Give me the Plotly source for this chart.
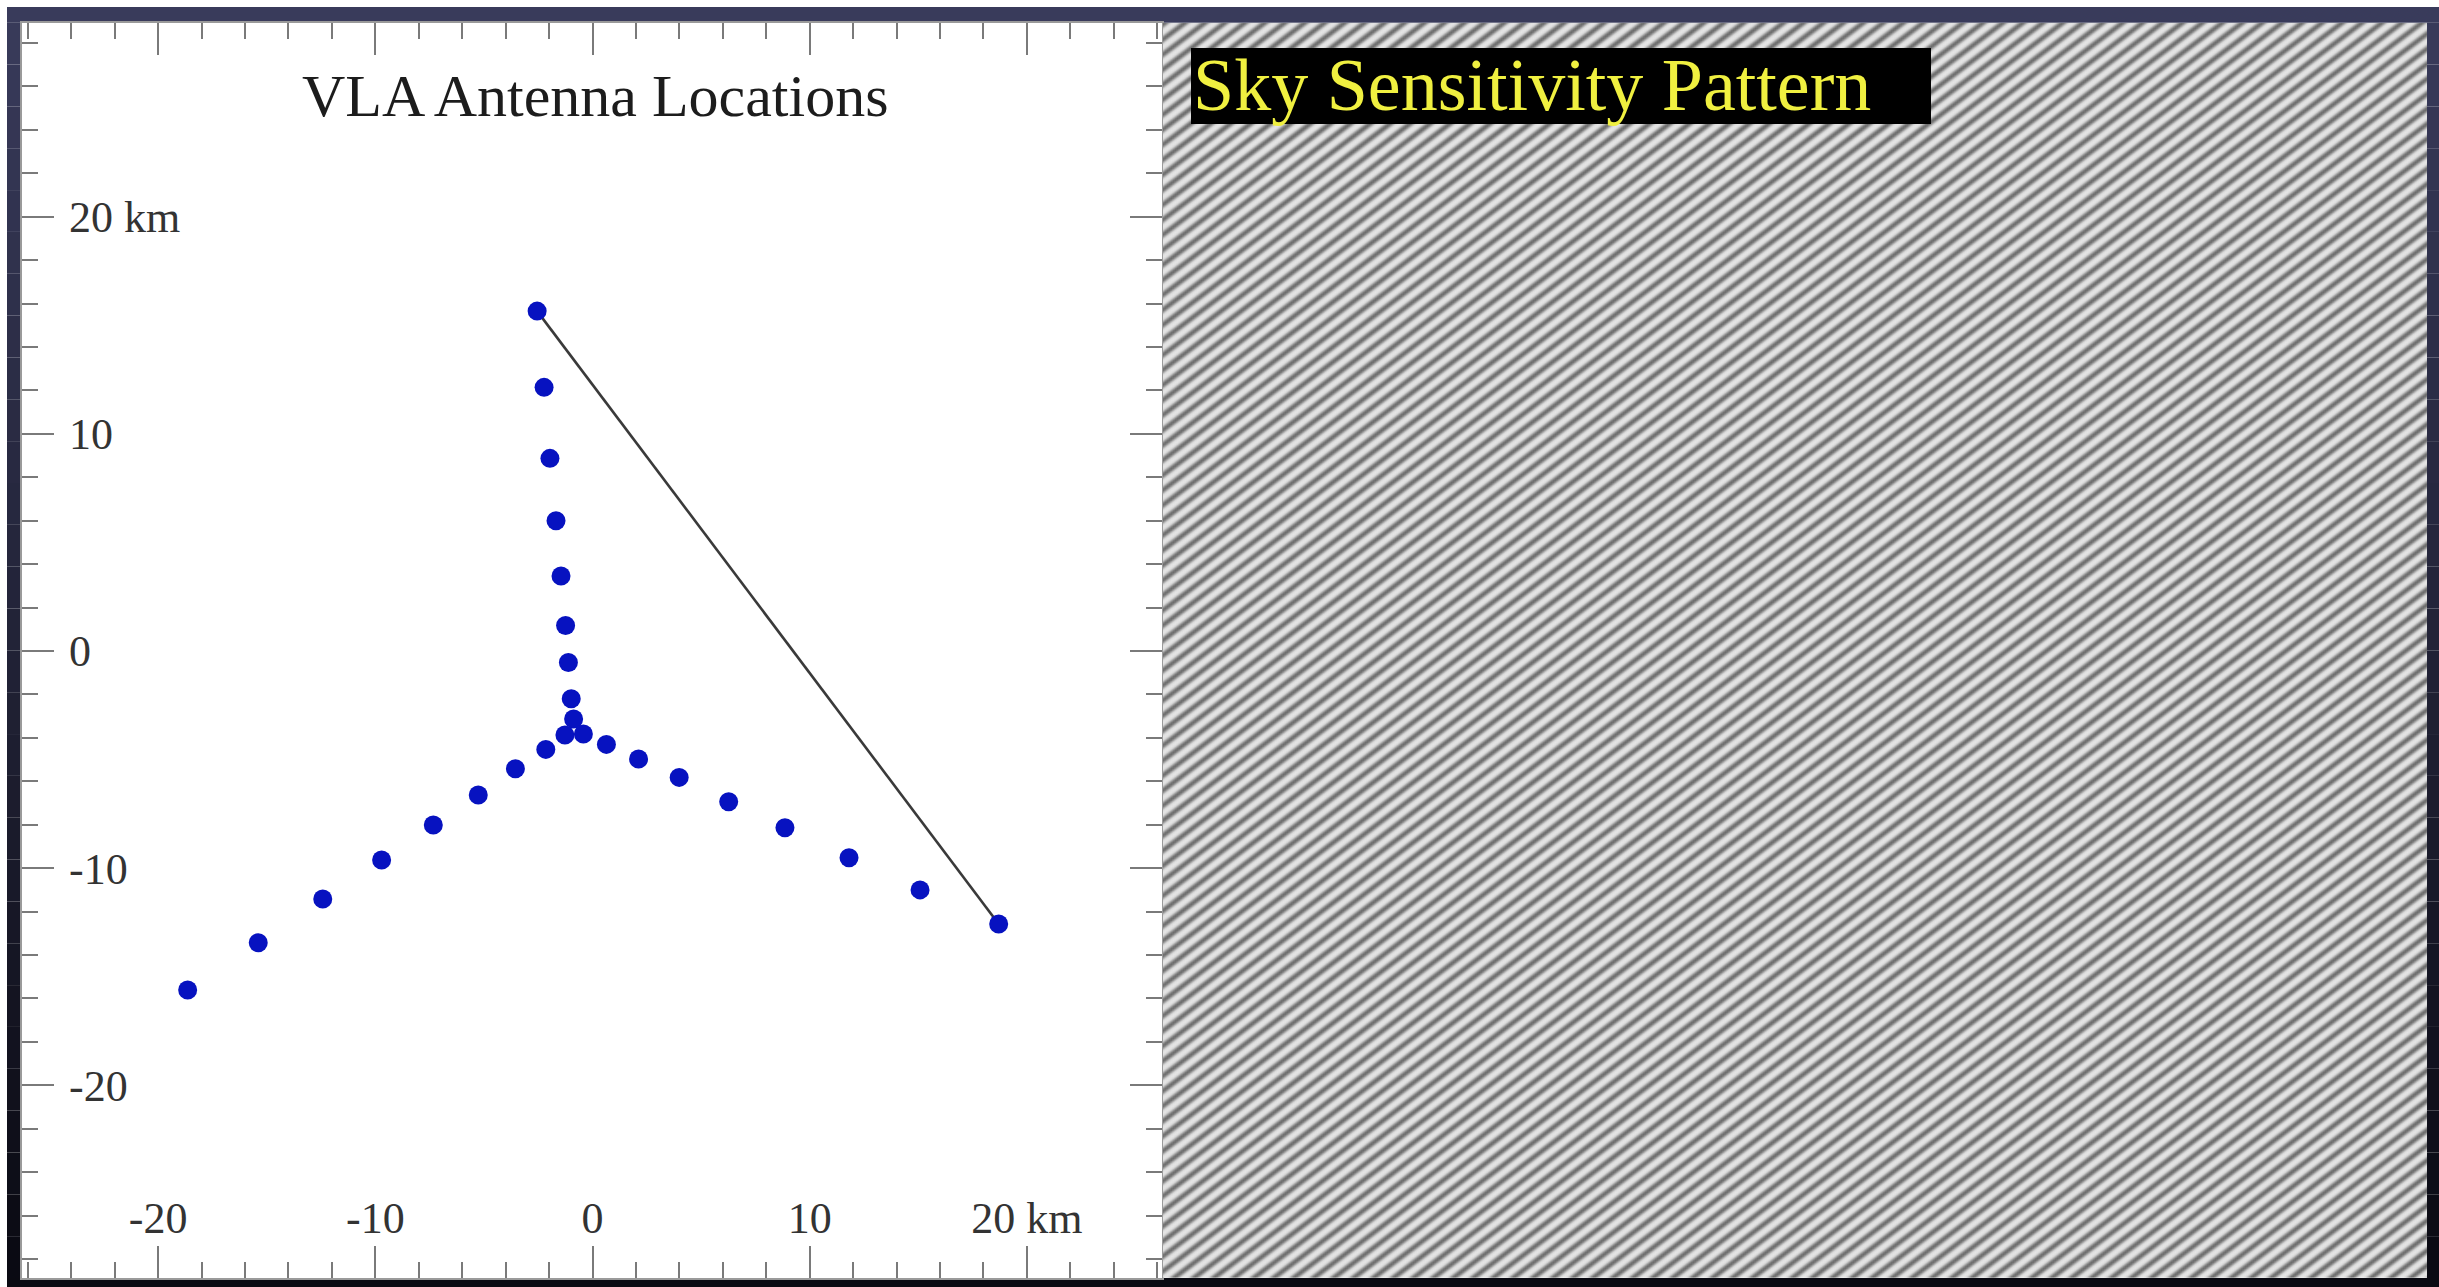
import numpy as np
import plotly.graph_objects as go

FIG_W, FIG_H = 2439, 1287

# ---------------- data: VLA antenna positions (km) ----------------
north_x = [-2.55, -2.23, -1.96, -1.68, -1.45, -1.24, -1.11, -0.98, -0.87]
north_y = [15.65, 12.14, 8.87, 6.00, 3.45, 1.17, -0.53, -2.20, -3.13]
west_x = [-1.27, -2.15, -3.55, -5.26, -7.33, -9.71, -12.42, -15.39, -18.64]
west_y = [-3.87, -4.53, -5.42, -6.63, -8.01, -9.62, -11.42, -13.43, -15.61]
east_x = [-0.42, 0.64, 2.12, 3.99, 6.27, 8.86, 11.81, 15.08, 18.70]
east_y = [-3.82, -4.30, -4.97, -5.82, -6.94, -8.14, -9.52, -11.00, -12.57]

# baseline drawn: first north antenna to last east antenna
baseline_x = [north_x[0], east_x[-1]]
baseline_y = [north_y[0], east_y[-1]]

tick_vals = [-20, -10, 0, 10, 20]
x_tick_text = ["-20", "-10", "0", "10", "20 km"]
y_tick_text = ["-20", "-10", "0", "10", "20 km"]

left_title = "VLA Antenna Locations"
right_title = "Sky Sensitivity Pattern"

FRINGE_SPACING_PX = 12.0  # on-screen spacing of fringes

X_RANGE = [-26.29, 26.22]
Y_RANGE = [-28.87, 28.93]


def px(x):
    return x / FIG_W


def py(y):
    return 1 - y / FIG_H


SERIF = "Liberation Serif, Times New Roman, serif"

# panel geometry (pixels)
L_X0, L_X1 = 21.5, 1162
R_X0, R_X1 = 1163, 2427
P_Y0, P_Y1 = 22.7, 1278

fig = go.Figure()

ant_x = north_x + west_x + east_x
ant_y = north_y + west_y + east_y

fig.add_trace(go.Scatter(
    x=baseline_x, y=baseline_y, mode="lines",
    line=dict(color="#3a3a3a", width=2.6),
    xaxis="x", yaxis="y", hoverinfo="skip", showlegend=False))
fig.add_trace(go.Scatter(
    x=ant_x, y=ant_y, mode="markers",
    marker=dict(color="#0712c0", size=19, line=dict(width=0)),
    xaxis="x", yaxis="y", showlegend=False))
# empty trace so the label-only axes are drawn
fig.add_trace(go.Scatter(x=[], y=[], xaxis="x3", yaxis="y3",
                         showlegend=False, hoverinfo="skip"))

# ---------------- fringe pattern for that baseline ----------------
bx = baseline_x[1] - baseline_x[0]
by = baseline_y[1] - baseline_y[0]
blen = np.hypot(bx, by)
ux, uy = bx / blen, by / blen
W = R_X1 - R_X0
H = P_Y1 - P_Y0
gx = np.arange(0, W + 2, 2.0)
gy = np.arange(0, H + 2, 2.0)
GX, GY = np.meshgrid(gx, gy)
phase = 2 * np.pi * (ux * GX + uy * GY) / FRINGE_SPACING_PX
zz = np.round((np.cos(phase) + 1) * 127.5).astype(np.uint8)

fig.add_trace(go.Heatmap(
    x=gx, y=gy, z=zz, zmin=0, zmax=255, zsmooth="best",
    colorscale=[[0, "#6a6a6a"], [0.35, "#a6a6a6"], [0.7, "#d6d6d6"],
                [1, "#e6e6e6"]],
    showscale=False, xaxis="x2", yaxis="y2", hoverinfo="skip"))

tick_col = "#7a7a7a"
tick_axis = dict(
    showgrid=False, zeroline=False, showline=True, linecolor="#9a9a9a",
    linewidth=2, mirror="allticks", ticks="inside", ticklen=32, tickwidth=2,
    tickcolor=tick_col, showticklabels=False,
    tickvals=tick_vals, fixedrange=True,
    minor=dict(dtick=2, tick0=0, ticks="inside", ticklen=16, tickwidth=2,
               tickcolor=tick_col, showgrid=False),
)
label_axis = dict(
    showgrid=False, zeroline=False, showline=False, ticks="",
    tickfont=dict(family=SERIF, size=44, color="#333333"),
    tickvals=tick_vals, fixedrange=True, anchor="free",
)

fig.update_layout(
    width=FIG_W, height=FIG_H,
    margin=dict(l=0, r=0, t=0, b=0),
    paper_bgcolor="white", plot_bgcolor="white",
    xaxis=dict(tick_axis, domain=[px(L_X0), px(L_X1)], anchor="y",
               range=X_RANGE),
    yaxis=dict(tick_axis, domain=[py(P_Y1), py(P_Y0)], anchor="x",
               range=Y_RANGE),
    xaxis3=dict(label_axis, overlaying="x", range=X_RANGE, side="bottom",
                position=py(1188), ticktext=x_tick_text),
    yaxis3=dict(label_axis, overlaying="y", range=Y_RANGE, side="right",
                position=px(68), ticktext=y_tick_text),
    xaxis2=dict(domain=[px(R_X0), px(R_X1)], anchor="y2", range=[0, W],
                visible=False, fixedrange=True),
    yaxis2=dict(domain=[py(P_Y1), py(P_Y0)], anchor="x2", range=[0, H],
                visible=False, fixedrange=True),
    showlegend=False,
)

# ---------------- frame ----------------
shapes = []
top_col = np.array([57, 59, 91])
bot_col = np.array([10, 10, 18])


def col_at(t):
    c = top_col + (bot_col - top_col) * t
    return "rgb(%d,%d,%d)" % tuple(c.astype(int))


shapes.append(dict(type="rect", xref="paper", yref="paper",
                   x0=px(7), x1=1, y0=py(P_Y0), y1=py(7),
                   fillcolor=col_at(0), line=dict(width=0), layer="below"))
shapes.append(dict(type="rect", xref="paper", yref="paper",
                   x0=px(7), x1=1, y0=0, y1=py(P_Y1),
                   fillcolor=col_at(1), line=dict(width=0), layer="below"))
N = 30
for i in range(N):
    ya = P_Y0 + (P_Y1 - P_Y0) * i / N
    yb = P_Y0 + (P_Y1 - P_Y0) * (i + 1) / N
    c = col_at((i + 0.5) / N)
    for xa, xb in [(7, L_X0), (R_X1, FIG_W)]:
        shapes.append(dict(type="rect", xref="paper", yref="paper",
                           x0=px(xa), x1=px(xb), y0=py(yb), y1=py(ya),
                           fillcolor=c, line=dict(width=0), layer="below"))

# black title box on the sky panel
shapes.append(dict(type="rect", xref="paper", yref="paper",
                   x0=px(1191), x1=px(1931), y0=py(124), y1=py(48),
                   fillcolor="black", line=dict(width=0), layer="above"))
fig.update_layout(shapes=shapes)

fig.add_annotation(text=left_title, xref="paper", yref="paper",
                   x=px(595), y=py(96), xanchor="center", yanchor="middle",
                   showarrow=False,
                   font=dict(family=SERIF, size=60, color="#1c1c1c"))
fig.add_annotation(text=right_title, xref="paper", yref="paper",
                   x=px(1191), y=py(85), xanchor="left", yanchor="middle",
                   showarrow=False,
                   font=dict(family=SERIF, size=74, color="#f0f040"))

fig.write_html("out.html")
